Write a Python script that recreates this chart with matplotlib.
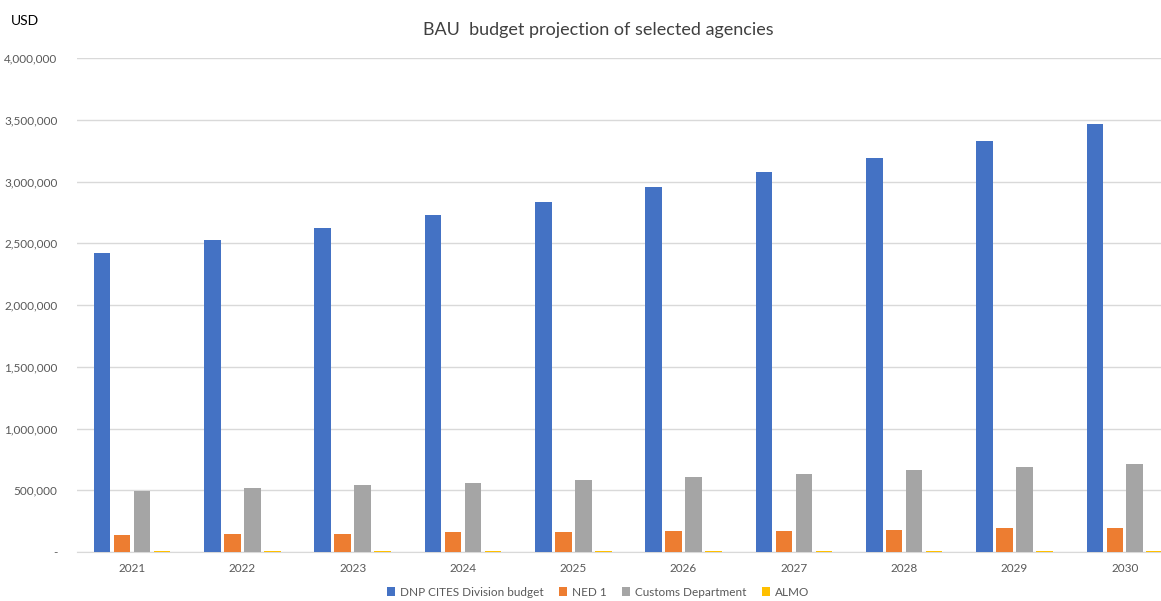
import matplotlib.pyplot as plt
import numpy as np
from matplotlib.ticker import FuncFormatter

plt.rcParams['font.family'] = ['Lato', 'DejaVu Sans']

years = ['2021', '2022', '2023', '2024', '2025', '2026', '2027', '2028', '2029', '2030']
dnp = [2421000, 2526000, 2623000, 2729000, 2834000, 2955000, 3077000, 3190000, 3328000, 3462000]
ned = [136000, 146000, 148000, 160000, 162000, 174000, 172000, 181000, 192000, 194000]
customs = [496000, 518000, 542000, 562000, 583000, 607000, 632000, 664000, 688000, 713000]
almo = [6000, 6200, 6400, 6600, 6800, 7000, 7200, 7400, 7600, 7800]

series = [
    ('DNP CITES Division budget', dnp, '#4472C4'),
    ('NED 1', ned, '#ED7D31'),
    ('Customs Department', customs, '#A5A5A5'),
    ('ALMO', almo, '#FFC000'),
]

fig = plt.figure(figsize=(11.61, 6.01), dpi=100)
# plot area runs past the right edge of the picture, as in the cropped original
ax = fig.add_axes([0.0663, 0.0815, 0.950, 0.822])

x = np.arange(len(years))
step = 0.181
width = 0.15
for i, (name, vals, col) in enumerate(series):
    ax.bar(x + (i - 1.5) * step, vals, width, color=col, label=name, zorder=3)

ax.set_xlim(-0.5, len(years) - 0.5)
ax.set_ylim(0, 4000000)
ax.set_yticks(np.arange(0, 4000001, 500000))
ax.yaxis.set_major_formatter(FuncFormatter(lambda v, p: '-' if v == 0 else f'{int(v):,}'))
ax.set_xticks(x)
ax.set_xticklabels(years)
ax.grid(axis='y', color='#d9d9d9', linewidth=1, zorder=0)
for s in ['top', 'right', 'left']:
    ax.spines[s].set_visible(False)
ax.spines['bottom'].set_color('#d9d9d9')
ax.tick_params(axis='both', length=0, colors='#595959', labelsize=8.5)
ax.tick_params(axis='y', pad=14)
ax.tick_params(axis='x', pad=8)

fig.text(0.515, 0.95, 'BAU  budget projection of selected agencies', ha='center', va='center',
         fontsize=13, color='#404040')
fig.text(0.009, 0.965, 'USD', ha='left', va='center', fontsize=10, color='#000000')

fig.legend(loc='lower center', bbox_to_anchor=(0.515, -0.012), ncol=4, frameon=False,
           fontsize=8.5, handlelength=0.7, handleheight=0.7, columnspacing=1.3, handletextpad=0.4,
           labelcolor='#595959')

fig.savefig('out.png', dpi=100)
